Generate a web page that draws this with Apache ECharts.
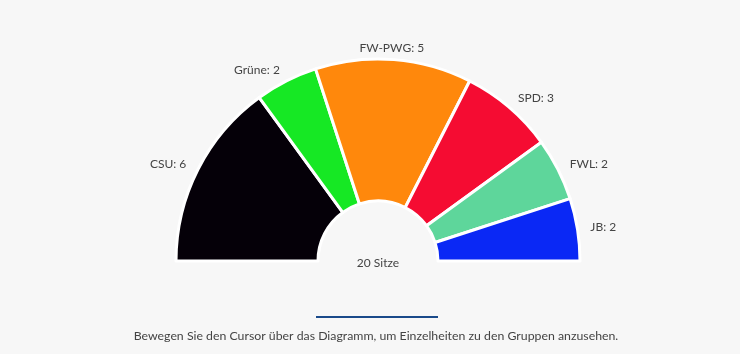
<!DOCTYPE html>
<html>
<head>
<meta charset="utf-8">
<script src="https://cdn.jsdelivr.net/npm/echarts@6/dist/echarts.min.js"></script>
<style>
  html, body { margin: 0; padding: 0; background: #f7f7f7; }
  #chart { width: 740px; height: 354px; }
</style>
</head>
<body>
<div id="chart"></div>
<script>
  // Sitzverteilung
  const parties = ['CSU', 'Grüne', 'FW-PWG', 'SPD', 'FWL', 'JB'];
  const seats = [6, 2, 5, 3, 2, 2];
  const colors = ['#050008', '#16e824', '#ff880c', '#f50c32', '#5ed69b', '#0a28f5'];
  const totalLabel = '20 Sitze';
  const hint = 'Bewegen Sie den Cursor über das Diagramm, um Einzelheiten zu den Gruppen anzusehen.';

  const chart = echarts.init(document.getElementById('chart'));

  chart.setOption({
    backgroundColor: '#f7f7f7',
    animation: false,
    textStyle: { fontFamily: 'Lato' },
    series: [{
      type: 'pie',
      center: [378, 261],
      radius: [60, 202],
      startAngle: 180,
      endAngle: 0,
      clockwise: true,
      itemStyle: { borderColor: '#ffffff', borderWidth: 3 },
      label: {
        show: true,
        position: 'outside',
        formatter: '{b}: {c}',
        color: '#444',
        fontSize: 12,
        fontFamily: 'Lato',
        distanceToLabelLine: 1
      },
      labelLine: { show: false, length: 12, length2: 0 },
      labelLayout: function (params) {
        // mittleres Label zentriert
        return params.dataIndex === 2 ? { align: 'center', dx: -4 } : {};
      },
      emphasis: { disabled: true },
      data: parties.map((p, i) => ({
        name: p,
        value: seats[i],
        itemStyle: { color: colors[i] }
      }))
    }],
    graphic: [
      {
        type: 'text',
        x: 378,
        y: 263,
        style: { text: totalLabel, fill: '#444', font: '12px Lato', align: 'center', verticalAlign: 'middle' }
      },
      {
        type: 'rect',
        shape: { x: 316, y: 316, width: 122, height: 2 },
        style: { fill: '#1a4a8a' }
      },
      {
        type: 'text',
        x: 376,
        y: 336,
        style: { text: hint, fill: '#444', font: '12.3px Lato', align: 'center', verticalAlign: 'middle' }
      }
    ]
  });
</script>
</body>
</html>
